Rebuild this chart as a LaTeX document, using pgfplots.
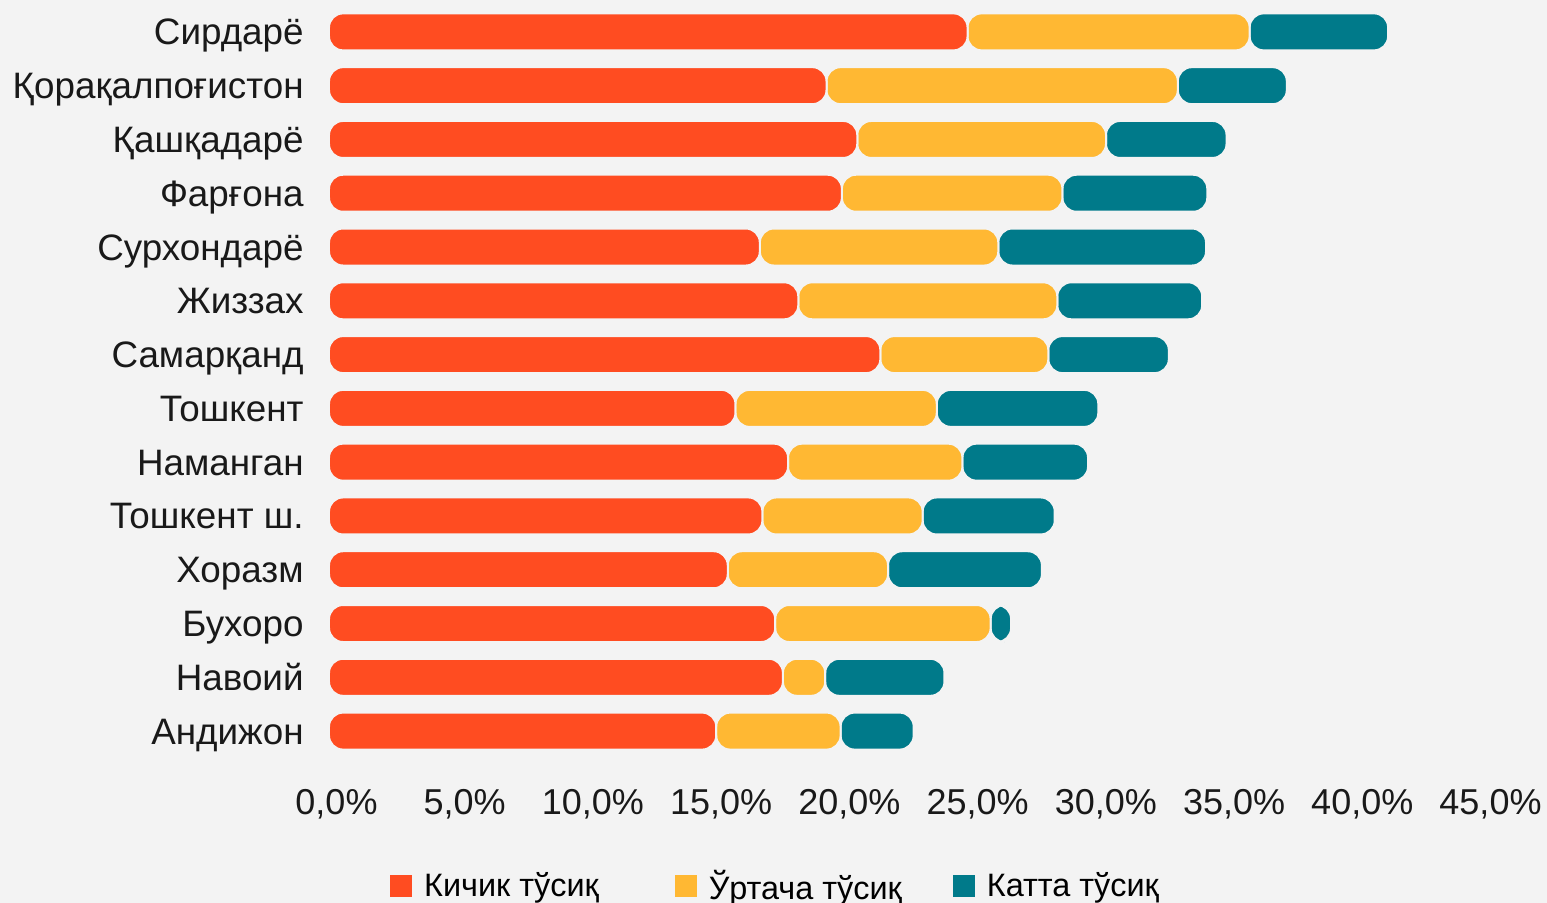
\documentclass[border=0pt]{standalone}
\usepackage{pgfplots}
\pgfplotsset{compat=1.18}
\usepackage{pgfplotstable}
\usepackage{fontspec}
\setmainfont{Liberation Sans}
\definecolor{bgc}{HTML}{F3F3F3}
\definecolor{cred}{HTML}{FF4C21}
\definecolor{cyel}{HTML}{FFB833}
\definecolor{cteal}{HTML}{007A8A}
\pgfplotstableread{
y red yel teal
0 15.1 4.85 2.85
1 17.7 1.65 4.65
2 17.4 8.4 0.8
3 15.55 6.25 6.0
4 16.9 6.25 5.15
5 17.9 6.8 4.9
6 15.85 7.85 6.3
7 21.5 6.55 4.7
8 18.3 10.1 5.65
9 16.8 9.3 8.1
10 20.0 8.6 5.65
11 20.6 9.7 4.7
12 19.4 13.7 4.25
13 24.9 11.0 5.4
}\data
\begin{document}
\begin{tikzpicture}
\fill[bgc] (0,0) rectangle (773.5pt,451.5pt);
\useasboundingbox (0,0) rectangle (773.5pt,451.5pt);
\begin{axis}[
  at={(164.5pt,72.5pt)}, anchor=south west,
  scale only axis, width=577pt, height=376.5pt,
  xbar stacked, bar width=18.5pt,
  xmin=0, xmax=45, ymin=-0.5, ymax=13.5,
  xtick={0,5,...,45},
  xticklabels={{0,0\%},{5,0\%},{10,0\%},{15,0\%},{20,0\%},{25,0\%},{30,0\%},{35,0\%},{40,0\%},{45,0\%}},
  ytick={0,...,13},
  yticklabels={Андижон,Навоий,Бухоро,Хоразм,Тошкент ш.,Наманган,Тошкент,Самарқанд,Жиззах,Сурхондарё,Фарғона,Қашқадарё,Қорақалпоғистон,Сирдарё},
  axis line style={draw=none}, major tick length=0pt,
  tick label style={text=black!90},
  xticklabel style={font=\fontsize{18}{22}\selectfont, anchor=base, yshift=-28.5pt, xshift=3.75pt, inner sep=0pt},
  yticklabel style={font=\fontsize{18.4}{22}\selectfont, anchor=base east, inner sep=0pt, xshift=-12.5pt, yshift=-6.5pt},
  every axis plot/.append style={draw=bgc, line width=1pt, rounded corners=7pt},
  legend columns=3,
  legend style={draw=none, fill=none, at={(0.3878,-0.170)}, anchor=center,
    font=\fontsize{16.2}{19}\selectfont,
    /tikz/column 1/.style={column sep=4pt},
    /tikz/column 2/.style={column sep=36pt},
    /tikz/column 3/.style={column sep=4pt},
    /tikz/column 4/.style={column sep=23.5pt},
    /tikz/column 5/.style={column sep=4pt}},
  legend image code/.code={\fill[#1, sharp corners, draw=none] (0pt,-5.5pt) rectangle (11pt,5.5pt);},
  clip=false,
]
\addplot[fill=cred] table[x=red,y=y]{\data};
\addplot[fill=cyel] table[x=yel,y=y]{\data};
\addplot[fill=cteal] table[x=teal,y=y]{\data};
\legend{Кичик тўсиқ, Ўртача тўсиқ, Катта тўсиқ}
\end{axis}
\end{tikzpicture}
\end{document}
